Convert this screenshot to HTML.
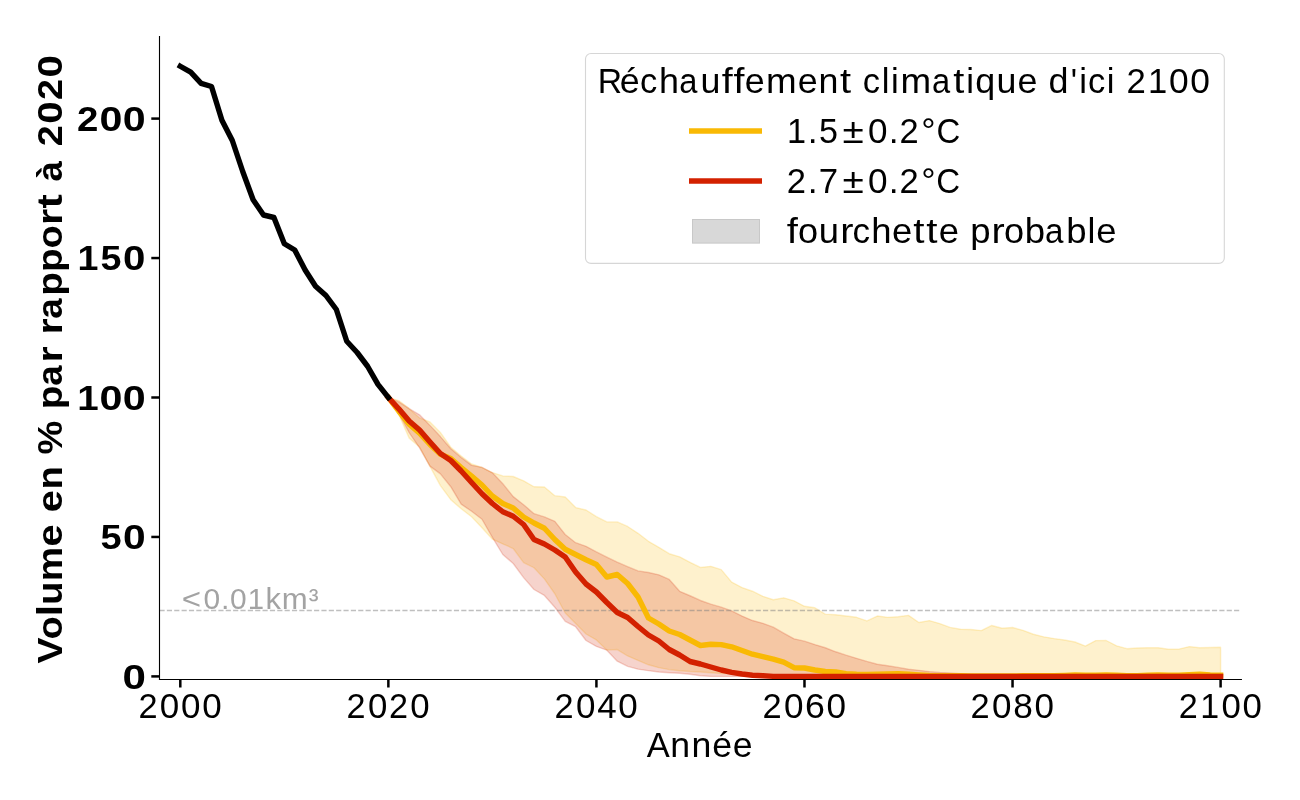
<!DOCTYPE html>
<html><head><meta charset="utf-8"><style>
html,body{margin:0;padding:0;background:#fff;}
body{width:1300px;height:800px;overflow:hidden;}
svg{display:block;will-change:transform;font-family:"Liberation Sans",sans-serif;}
</style></head><body>
<svg width="1300" height="800" viewBox="0 0 1300 800">
<rect width="1300" height="800" fill="#fff"/>
<g stroke-width="1.39" stroke-linejoin="round">
<path d="M388.36 397.50 L398.76 400.55 L409.17 408.67 L419.57 417.93 L429.97 421.99 L440.38 432.38 L450.78 447.23 L461.18 456.00 L471.58 464.03 L481.99 467.50 L492.39 472.60 L502.79 475.90 L513.20 476.49 L523.60 480.87 L534.00 486.77 L544.40 487.00 L554.81 495.66 L565.21 496.96 L575.61 507.59 L586.02 510.01 L596.42 516.70 L606.82 521.91 L617.23 521.90 L627.63 526.48 L638.03 533.31 L648.44 541.28 L658.84 547.29 L669.24 553.71 L679.64 556.84 L690.05 562.27 L700.45 567.48 L710.85 566.32 L721.26 569.67 L731.66 582.09 L742.06 587.53 L752.47 591.23 L762.87 596.29 L773.27 599.75 L783.67 597.81 L794.08 600.81 L804.48 606.26 L814.88 607.76 L825.29 614.13 L835.69 614.70 L846.09 616.01 L856.50 617.30 L866.90 620.95 L877.30 616.03 L887.70 617.35 L898.11 616.73 L908.51 615.35 L918.91 622.54 L929.32 620.60 L939.72 623.57 L950.12 627.42 L960.53 629.23 L970.93 629.53 L981.33 630.57 L991.73 625.48 L1002.14 628.27 L1012.54 627.49 L1022.94 630.37 L1033.35 634.24 L1043.75 636.82 L1054.15 638.58 L1064.56 639.96 L1074.96 642.01 L1085.36 646.11 L1095.76 640.62 L1106.17 640.50 L1116.57 645.86 L1126.97 648.69 L1137.38 648.04 L1147.78 647.74 L1158.18 647.71 L1168.59 649.30 L1178.99 649.08 L1189.39 646.62 L1199.79 647.79 L1210.20 647.50 L1220.60 647.20 L1220.60 676.40 L1210.20 676.40 L1199.79 676.40 L1189.39 676.40 L1178.99 676.40 L1168.59 676.40 L1158.18 676.40 L1147.78 676.40 L1137.38 676.40 L1126.97 676.40 L1116.57 676.40 L1106.17 676.40 L1095.76 676.40 L1085.36 676.40 L1074.96 676.40 L1064.56 676.40 L1054.15 676.40 L1043.75 676.40 L1033.35 676.40 L1022.94 676.40 L1012.54 676.40 L1002.14 676.40 L991.73 676.40 L981.33 676.40 L970.93 676.40 L960.53 676.40 L950.12 676.40 L939.72 676.40 L929.32 676.40 L918.91 676.40 L908.51 676.40 L898.11 676.40 L887.70 676.40 L877.30 676.40 L866.90 676.40 L856.50 676.40 L846.09 676.40 L835.69 676.40 L825.29 676.40 L814.88 676.40 L804.48 676.40 L794.08 676.28 L783.67 676.07 L773.27 675.78 L762.87 675.43 L752.47 675.08 L742.06 674.60 L731.66 674.08 L721.26 673.56 L710.85 672.81 L700.45 672.03 L690.05 671.50 L679.64 670.71 L669.24 669.61 L658.84 667.66 L648.44 664.77 L638.03 660.44 L627.63 655.98 L617.23 649.54 L606.82 650.08 L596.42 639.96 L586.02 634.02 L575.61 623.61 L565.21 612.96 L554.81 593.73 L544.40 578.90 L534.00 567.75 L523.60 562.55 L513.20 548.52 L502.79 543.91 L492.39 539.16 L481.99 527.67 L471.58 516.76 L461.18 508.81 L450.78 499.70 L440.38 485.58 L429.97 466.36 L419.57 446.99 L409.17 438.11 L398.76 414.45 L388.36 397.50 Z" fill="#f9b904" fill-opacity="0.2" stroke="#f9b904" stroke-opacity="0.2"/>
<path d="M388.36 397.50 L398.76 401.93 L409.17 408.70 L419.57 414.80 L429.97 425.40 L440.38 436.59 L450.78 448.74 L461.18 457.54 L471.58 465.32 L481.99 467.44 L492.39 472.84 L502.79 483.68 L513.20 496.62 L523.60 504.77 L534.00 513.66 L544.40 516.89 L554.81 521.33 L565.21 534.50 L575.61 542.70 L586.02 546.37 L596.42 551.96 L606.82 557.16 L617.23 562.17 L627.63 566.65 L638.03 570.90 L648.44 572.45 L658.84 574.87 L669.24 579.42 L679.64 591.28 L690.05 595.75 L700.45 600.48 L710.85 604.20 L721.26 607.18 L731.66 610.88 L742.06 616.03 L752.47 620.52 L762.87 623.31 L773.27 627.19 L783.67 633.14 L794.08 638.87 L804.48 641.16 L814.88 644.62 L825.29 647.73 L835.69 651.78 L846.09 655.18 L856.50 658.31 L866.90 661.44 L877.30 664.28 L887.70 665.80 L898.11 667.41 L908.51 669.27 L918.91 670.32 L929.32 671.58 L939.72 672.42 L950.12 673.00 L960.53 673.70 L970.93 674.40 L981.33 675.09 L991.73 675.82 L1002.14 676.40 L1012.54 676.40 L1022.94 676.40 L1033.35 676.40 L1043.75 676.40 L1054.15 676.40 L1064.56 676.40 L1074.96 676.40 L1085.36 676.40 L1095.76 676.40 L1106.17 676.40 L1116.57 676.40 L1126.97 676.40 L1137.38 676.40 L1147.78 676.40 L1158.18 676.40 L1168.59 676.40 L1178.99 676.40 L1189.39 676.40 L1199.79 676.40 L1210.20 676.40 L1220.60 676.40 L1220.60 676.40 L1210.20 676.40 L1199.79 676.40 L1189.39 676.40 L1178.99 676.40 L1168.59 676.40 L1158.18 676.40 L1147.78 676.40 L1137.38 676.40 L1126.97 676.40 L1116.57 676.40 L1106.17 676.40 L1095.76 676.40 L1085.36 676.40 L1074.96 676.40 L1064.56 676.40 L1054.15 676.40 L1043.75 676.40 L1033.35 676.40 L1022.94 676.40 L1012.54 676.40 L1002.14 676.40 L991.73 676.40 L981.33 676.40 L970.93 676.40 L960.53 676.40 L950.12 676.40 L939.72 676.40 L929.32 676.40 L918.91 676.40 L908.51 676.40 L898.11 676.40 L887.70 676.40 L877.30 676.40 L866.90 676.40 L856.50 676.40 L846.09 676.40 L835.69 676.40 L825.29 676.40 L814.88 676.40 L804.48 676.40 L794.08 676.40 L783.67 676.40 L773.27 676.40 L762.87 676.40 L752.47 676.40 L742.06 676.40 L731.66 676.40 L721.26 676.40 L710.85 676.39 L700.45 675.78 L690.05 674.26 L679.64 673.23 L669.24 672.70 L658.84 672.05 L648.44 670.63 L638.03 669.15 L627.63 666.32 L617.23 661.21 L606.82 650.19 L596.42 646.45 L586.02 640.51 L575.61 626.71 L565.21 621.36 L554.81 607.28 L544.40 595.45 L534.00 589.50 L523.60 577.61 L513.20 563.52 L502.79 554.50 L492.39 537.45 L481.99 519.26 L471.58 511.29 L461.18 504.13 L450.78 486.72 L440.38 473.86 L429.97 466.18 L419.57 447.93 L409.17 432.69 L398.76 413.52 L388.36 397.50 Z" fill="#d32100" fill-opacity="0.2" stroke="#d32100" stroke-opacity="0.2"/>
</g>
<line x1="159.5" y1="610.45" x2="1241.4" y2="610.45" stroke="#808080" stroke-opacity="0.5" stroke-width="1.39" stroke-dasharray="5.14 2.22"/>
<g fill="none" stroke-width="5.4" stroke-linejoin="round" stroke-linecap="square">
<path d="M388.36 397.50 L398.76 411.20 L409.17 424.20 L419.57 433.20 L429.97 444.50 L440.38 454.20 L450.78 458.50 L461.18 467.50 L471.58 476.00 L481.99 485.00 L492.39 496.00 L502.79 503.50 L513.20 508.00 L523.60 517.00 L534.00 523.00 L544.40 528.25 L554.81 539.50 L565.21 549.25 L575.61 554.50 L586.02 559.75 L596.42 564.50 L606.82 577.00 L617.23 574.50 L627.63 583.50 L638.03 597.00 L648.44 618.00 L658.84 624.00 L669.24 631.00 L679.64 634.50 L690.05 640.00 L700.45 645.50 L710.85 644.30 L721.26 644.60 L731.66 646.80 L742.06 650.50 L752.47 654.20 L762.87 656.60 L773.27 659.10 L783.67 662.20 L794.08 667.70 L804.48 668.00 L814.88 670.00 L825.29 671.50 L835.69 671.90 L846.09 673.60 L856.50 674.30 L866.90 674.40 L877.30 674.30 L887.70 674.00 L898.11 673.80 L908.51 674.30 L918.91 675.00 L929.32 675.50 L939.72 675.70 L950.12 675.80 L960.53 675.80 L970.93 675.90 L981.33 675.90 L991.73 675.90 L1002.14 675.90 L1012.54 675.90 L1022.94 675.80 L1033.35 675.80 L1043.75 675.70 L1054.15 675.60 L1064.56 675.40 L1074.96 675.00 L1085.36 675.10 L1095.76 675.30 L1106.17 675.00 L1116.57 675.30 L1126.97 675.60 L1137.38 675.60 L1147.78 675.30 L1158.18 675.00 L1168.59 675.10 L1178.99 675.20 L1189.39 674.60 L1199.79 674.30 L1210.20 674.90 L1220.60 675.10" stroke="#f9b904"/>
<path d="M388.36 397.50 L398.76 408.80 L409.17 421.00 L419.57 430.00 L429.97 442.00 L440.38 453.50 L450.78 460.50 L461.18 471.00 L471.58 482.50 L481.99 493.75 L492.39 503.50 L502.79 511.75 L513.20 516.25 L523.60 524.50 L534.00 539.50 L544.40 544.00 L554.81 550.00 L565.21 557.00 L575.61 572.00 L586.02 584.00 L596.42 592.00 L606.82 602.50 L617.23 612.50 L627.63 617.50 L638.03 626.50 L648.44 635.00 L658.84 641.00 L669.24 649.50 L679.64 655.00 L690.05 661.50 L700.45 664.00 L710.85 667.00 L721.26 670.00 L731.66 672.30 L742.06 674.00 L752.47 675.20 L762.87 675.80 L773.27 676.40 L783.67 676.40 L794.08 676.40 L804.48 676.40 L814.88 676.40 L825.29 676.40 L835.69 676.40 L846.09 676.40 L856.50 676.40 L866.90 676.40 L877.30 676.40 L887.70 676.40 L898.11 676.40 L908.51 676.40 L918.91 676.40 L929.32 676.40 L939.72 676.40 L950.12 676.40 L960.53 676.40 L970.93 676.40 L981.33 676.40 L991.73 676.40 L1002.14 676.40 L1012.54 676.40 L1022.94 676.40 L1033.35 676.40 L1043.75 676.40 L1054.15 676.40 L1064.56 676.40 L1074.96 676.40 L1085.36 676.40 L1095.76 676.40 L1106.17 676.40 L1116.57 676.40 L1126.97 676.40 L1137.38 676.40 L1147.78 676.40 L1158.18 676.40 L1168.59 676.40 L1178.99 676.40 L1189.39 676.40 L1199.79 676.40 L1210.20 676.40 L1220.60 676.40" stroke="#d32100"/>
<path d="M180.30 66.30 L190.70 72.20 L201.11 83.30 L211.51 86.50 L221.91 120.20 L232.31 140.50 L242.72 171.50 L253.12 199.70 L263.52 215.00 L273.93 217.50 L284.33 243.75 L294.73 250.00 L305.14 270.00 L315.54 286.25 L325.94 295.50 L336.35 309.50 L346.75 341.25 L357.15 352.50 L367.55 366.25 L377.96 384.40 L388.36 397.50" stroke="#000"/>
</g>
<g stroke="#000" stroke-width="1.11" stroke-linecap="square">
<line x1="159.5" y1="36.6" x2="159.5" y2="679.5"/>
<line x1="159.5" y1="679.5" x2="1241.4" y2="679.5"/>
</g>
<g stroke="#000" stroke-width="2.5">
<line x1="180.30" y1="679.5" x2="180.30" y2="687.5" /><line x1="388.36" y1="679.5" x2="388.36" y2="687.5" /><line x1="596.42" y1="679.5" x2="596.42" y2="687.5" /><line x1="804.48" y1="679.5" x2="804.48" y2="687.5" /><line x1="1012.54" y1="679.5" x2="1012.54" y2="687.5" /><line x1="1220.60" y1="679.5" x2="1220.60" y2="687.5" /><line x1="151.3" y1="676.40" x2="159.5" y2="676.40" /><line x1="151.3" y1="536.95" x2="159.5" y2="536.95" /><line x1="151.3" y1="397.50" x2="159.5" y2="397.50" /><line x1="151.3" y1="258.05" x2="159.5" y2="258.05" /><line x1="151.3" y1="118.60" x2="159.5" y2="118.60" />
</g>
<rect x="585.5" y="53.55" width="638.8" height="209.85" rx="5.5" ry="5.5" fill="#fff" fill-opacity="0.8" stroke="#d6d6d6" stroke-width="1.1"/>
<line x1="689" y1="131" x2="762" y2="131" stroke="#f9b904" stroke-width="5.5"/>
<line x1="689" y1="181" x2="762" y2="181" stroke="#d32100" stroke-width="5.5"/>
<rect x="692.5" y="219.5" width="67" height="23.6" fill="#d8d8d8" stroke="#c8c8c8" stroke-width="1"/>
<text transform="translate(137.77 717.50)" y="0" font-size="35.33" fill="#000"><tspan x="0.61" textLength="19.10" lengthAdjust="spacingAndGlyphs">2</tspan><tspan x="22.07" textLength="19.46" lengthAdjust="spacingAndGlyphs">0</tspan><tspan x="43.28" textLength="19.46" lengthAdjust="spacingAndGlyphs">0</tspan><tspan x="64.49" textLength="19.46" lengthAdjust="spacingAndGlyphs">0</tspan></text>
<text transform="translate(345.83 717.50)" y="0" font-size="35.33" fill="#000"><tspan x="0.65" textLength="19.02" lengthAdjust="spacingAndGlyphs">2</tspan><tspan x="22.12" textLength="19.37" lengthAdjust="spacingAndGlyphs">0</tspan><tspan x="43.06" textLength="19.02" lengthAdjust="spacingAndGlyphs">2</tspan><tspan x="64.53" textLength="19.37" lengthAdjust="spacingAndGlyphs">0</tspan></text>
<text transform="translate(553.89 717.50)" y="0" font-size="35.33" fill="#000"><tspan x="0.60" textLength="19.10" lengthAdjust="spacingAndGlyphs">2</tspan><tspan x="22.07" textLength="19.46" lengthAdjust="spacingAndGlyphs">0</tspan><tspan x="43.28" textLength="19.46" lengthAdjust="spacingAndGlyphs">4</tspan><tspan x="64.49" textLength="19.46" lengthAdjust="spacingAndGlyphs">0</tspan></text>
<text transform="translate(761.95 717.50)" y="0" font-size="35.33" fill="#000"><tspan x="0.56" textLength="19.18" lengthAdjust="spacingAndGlyphs">2</tspan><tspan x="22.03" textLength="19.54" lengthAdjust="spacingAndGlyphs">0</tspan><tspan x="43.07" textLength="19.88" lengthAdjust="spacingAndGlyphs">6</tspan><tspan x="64.45" textLength="19.54" lengthAdjust="spacingAndGlyphs">0</tspan></text>
<text transform="translate(970.01 717.50)" y="0" font-size="35.33" fill="#000"><tspan x="0.59" textLength="19.13" lengthAdjust="spacingAndGlyphs">2</tspan><tspan x="22.06" textLength="19.48" lengthAdjust="spacingAndGlyphs">0</tspan><tspan x="43.22" textLength="19.59" lengthAdjust="spacingAndGlyphs">8</tspan><tspan x="64.48" textLength="19.48" lengthAdjust="spacingAndGlyphs">0</tspan></text>
<text transform="translate(1178.07 717.50)" y="0" font-size="35.33" fill="#000"><tspan x="0.66" textLength="19.00" lengthAdjust="spacingAndGlyphs">2</tspan><tspan x="22.18" textLength="18.91" lengthAdjust="spacingAndGlyphs">1</tspan><tspan x="43.34" textLength="19.35" lengthAdjust="spacingAndGlyphs">0</tspan><tspan x="64.54" textLength="19.35" lengthAdjust="spacingAndGlyphs">0</tspan></text>
<text transform="translate(122.60 688.50)" y="0" font-size="35.33" font-weight="bold" fill="#000"><tspan x="-0.07" textLength="23.39" lengthAdjust="spacingAndGlyphs">0</tspan></text>
<text transform="translate(99.41 549.05)" y="0" font-size="35.33" font-weight="bold" fill="#000"><tspan x="1.09" textLength="21.16" lengthAdjust="spacingAndGlyphs">5</tspan><tspan x="23.51" textLength="22.63" lengthAdjust="spacingAndGlyphs">0</tspan></text>
<text transform="translate(76.22 409.60)" y="0" font-size="35.33" font-weight="bold" fill="#000"><tspan x="0.93" textLength="21.44" lengthAdjust="spacingAndGlyphs">1</tspan><tspan x="23.37" textLength="22.91" lengthAdjust="spacingAndGlyphs">0</tspan><tspan x="46.56" textLength="22.91" lengthAdjust="spacingAndGlyphs">0</tspan></text>
<text transform="translate(76.22 270.15)" y="0" font-size="35.33" font-weight="bold" fill="#000"><tspan x="1.19" textLength="20.95" lengthAdjust="spacingAndGlyphs">1</tspan><tspan x="24.39" textLength="20.93" lengthAdjust="spacingAndGlyphs">5</tspan><tspan x="46.82" textLength="22.39" lengthAdjust="spacingAndGlyphs">0</tspan></text>
<text transform="translate(76.22 130.70)" y="0" font-size="35.33" font-weight="bold" fill="#000"><tspan x="0.88" textLength="21.37" lengthAdjust="spacingAndGlyphs">2</tspan><tspan x="23.38" textLength="22.88" lengthAdjust="spacingAndGlyphs">0</tspan><tspan x="46.57" textLength="22.88" lengthAdjust="spacingAndGlyphs">0</tspan></text>
<text transform="translate(646.80 756.80)" y="0" font-size="35.33" fill="#000"><tspan x="-0.09" textLength="22.97" lengthAdjust="spacingAndGlyphs">A</tspan><tspan x="23.53" textLength="19.82" lengthAdjust="spacingAndGlyphs">n</tspan><tspan x="44.66" textLength="19.82" lengthAdjust="spacingAndGlyphs">n</tspan><tspan x="65.46" textLength="19.83" lengthAdjust="spacingAndGlyphs">é</tspan><tspan x="85.97" textLength="19.83" lengthAdjust="spacingAndGlyphs">e</tspan></text>
<text transform="translate(62.20 663.30) rotate(-90)" y="0" font-size="35.33" font-weight="bold" fill="#000"><tspan x="-0.08" textLength="25.96" lengthAdjust="spacingAndGlyphs">V</tspan><tspan x="23.74" textLength="23.35" lengthAdjust="spacingAndGlyphs">o</tspan><tspan x="46.95" textLength="11.29" lengthAdjust="spacingAndGlyphs">l</tspan><tspan x="58.40" textLength="23.46" lengthAdjust="spacingAndGlyphs">u</tspan><tspan x="82.18" textLength="34.40" lengthAdjust="spacingAndGlyphs">m</tspan><tspan x="116.84" textLength="22.06" lengthAdjust="spacingAndGlyphs">e</tspan><tspan x="139.36"> </tspan><tspan x="151.05" textLength="22.06" lengthAdjust="spacingAndGlyphs">e</tspan><tspan x="173.73" textLength="23.46" lengthAdjust="spacingAndGlyphs">n</tspan><tspan x="197.30"> </tspan><tspan x="208.71" textLength="33.86" lengthAdjust="spacingAndGlyphs">%</tspan><tspan x="242.30"> </tspan><tspan x="254.15" textLength="23.72" lengthAdjust="spacingAndGlyphs">p</tspan><tspan x="277.58" textLength="20.39" lengthAdjust="spacingAndGlyphs">a</tspan><tspan x="300.74" textLength="16.08" lengthAdjust="spacingAndGlyphs">r</tspan><tspan x="316.70"> </tspan><tspan x="328.79" textLength="16.08" lengthAdjust="spacingAndGlyphs">r</tspan><tspan x="344.55" textLength="20.39" lengthAdjust="spacingAndGlyphs">a</tspan><tspan x="367.47" textLength="23.72" lengthAdjust="spacingAndGlyphs">p</tspan><tspan x="391.33" textLength="23.72" lengthAdjust="spacingAndGlyphs">p</tspan><tspan x="414.73" textLength="23.35" lengthAdjust="spacingAndGlyphs">o</tspan><tspan x="438.34" textLength="16.08" lengthAdjust="spacingAndGlyphs">r</tspan><tspan x="454.93" textLength="14.34" lengthAdjust="spacingAndGlyphs">t</tspan><tspan x="470.23"> </tspan><tspan x="481.79" textLength="20.39" lengthAdjust="spacingAndGlyphs">à</tspan><tspan x="504.33"> </tspan><tspan x="517.01" textLength="21.00" lengthAdjust="spacingAndGlyphs">2</tspan><tspan x="539.51" textLength="22.48" lengthAdjust="spacingAndGlyphs">0</tspan><tspan x="563.39" textLength="21.00" lengthAdjust="spacingAndGlyphs">2</tspan><tspan x="585.90" textLength="22.48" lengthAdjust="spacingAndGlyphs">0</tspan></text>
<text transform="translate(597.80 93.10)" y="0" font-size="35.33" fill="#000"><tspan x="-0.03" textLength="24.34" lengthAdjust="spacingAndGlyphs">R</tspan><tspan x="22.02" textLength="19.92" lengthAdjust="spacingAndGlyphs">é</tspan><tspan x="42.31" textLength="17.26" lengthAdjust="spacingAndGlyphs">c</tspan><tspan x="61.09" textLength="19.97" lengthAdjust="spacingAndGlyphs">h</tspan><tspan x="81.54" textLength="18.17" lengthAdjust="spacingAndGlyphs">a</tspan><tspan x="102.59" textLength="19.90" lengthAdjust="spacingAndGlyphs">u</tspan><tspan x="123.95" textLength="10.97" lengthAdjust="spacingAndGlyphs">f</tspan><tspan x="135.68" textLength="10.97" lengthAdjust="spacingAndGlyphs">f</tspan><tspan x="147.01" textLength="19.92" lengthAdjust="spacingAndGlyphs">e</tspan><tspan x="168.16" textLength="30.64" lengthAdjust="spacingAndGlyphs">m</tspan><tspan x="199.98" textLength="19.92" lengthAdjust="spacingAndGlyphs">e</tspan><tspan x="220.81" textLength="19.90" lengthAdjust="spacingAndGlyphs">n</tspan><tspan x="242.15" textLength="11.07" lengthAdjust="spacingAndGlyphs">t</tspan><tspan x="254.32"> </tspan><tspan x="265.06" textLength="17.26" lengthAdjust="spacingAndGlyphs">c</tspan><tspan x="284.01" textLength="7.74" lengthAdjust="spacingAndGlyphs">l</tspan><tspan x="293.28" textLength="7.74" lengthAdjust="spacingAndGlyphs">i</tspan><tspan x="302.77" textLength="30.64" lengthAdjust="spacingAndGlyphs">m</tspan><tspan x="334.16" textLength="18.17" lengthAdjust="spacingAndGlyphs">a</tspan><tspan x="355.56" textLength="11.07" lengthAdjust="spacingAndGlyphs">t</tspan><tspan x="368.51" textLength="7.74" lengthAdjust="spacingAndGlyphs">i</tspan><tspan x="377.39" textLength="19.97" lengthAdjust="spacingAndGlyphs">q</tspan><tspan x="398.70" textLength="19.90" lengthAdjust="spacingAndGlyphs">u</tspan><tspan x="419.64" textLength="19.92" lengthAdjust="spacingAndGlyphs">e</tspan><tspan x="439.79"> </tspan><tspan x="450.78" textLength="19.98" lengthAdjust="spacingAndGlyphs">d</tspan><tspan x="472.96" textLength="6.32" lengthAdjust="spacingAndGlyphs">'</tspan><tspan x="481.48" textLength="7.74" lengthAdjust="spacingAndGlyphs">i</tspan><tspan x="490.11" textLength="17.26" lengthAdjust="spacingAndGlyphs">c</tspan><tspan x="509.07" textLength="7.74" lengthAdjust="spacingAndGlyphs">i</tspan><tspan x="517.55"> </tspan><tspan x="528.65" textLength="19.32" lengthAdjust="spacingAndGlyphs">2</tspan><tspan x="550.17" textLength="19.23" lengthAdjust="spacingAndGlyphs">1</tspan><tspan x="571.32" textLength="19.68" lengthAdjust="spacingAndGlyphs">0</tspan><tspan x="592.53" textLength="19.68" lengthAdjust="spacingAndGlyphs">0</tspan></text>
<text transform="translate(786.20 143.10)" y="0" font-size="35.33" fill="#000"><tspan x="0.90" textLength="19.07" lengthAdjust="spacingAndGlyphs">1</tspan><tspan x="21.55" textLength="9.87" lengthAdjust="spacingAndGlyphs">.</tspan><tspan x="32.79" textLength="18.95" lengthAdjust="spacingAndGlyphs">5</tspan><tspan x="56.32" textLength="21.28" lengthAdjust="spacingAndGlyphs">±</tspan><tspan x="81.78" textLength="19.51" lengthAdjust="spacingAndGlyphs">0</tspan><tspan x="102.49" textLength="9.87" lengthAdjust="spacingAndGlyphs">.</tspan><tspan x="113.32" textLength="19.15" lengthAdjust="spacingAndGlyphs">2</tspan><tspan x="135.11" textLength="14.36" lengthAdjust="spacingAndGlyphs">°</tspan><tspan x="150.19" textLength="23.77" lengthAdjust="spacingAndGlyphs">C</tspan></text>
<text transform="translate(786.20 193.10)" y="0" font-size="35.33" fill="#000"><tspan x="0.55" textLength="19.21" lengthAdjust="spacingAndGlyphs">2</tspan><tspan x="21.54" textLength="9.90" lengthAdjust="spacingAndGlyphs">.</tspan><tspan x="32.66" textLength="19.35" lengthAdjust="spacingAndGlyphs">7</tspan><tspan x="56.29" textLength="21.35" lengthAdjust="spacingAndGlyphs">±</tspan><tspan x="81.75" textLength="19.56" lengthAdjust="spacingAndGlyphs">0</tspan><tspan x="102.48" textLength="9.90" lengthAdjust="spacingAndGlyphs">.</tspan><tspan x="113.30" textLength="19.21" lengthAdjust="spacingAndGlyphs">2</tspan><tspan x="135.09" textLength="14.40" lengthAdjust="spacingAndGlyphs">°</tspan><tspan x="150.16" textLength="23.84" lengthAdjust="spacingAndGlyphs">C</tspan></text>
<text transform="translate(786.20 242.70)" y="0" font-size="35.33" fill="#000"><tspan x="0.68" textLength="11.15" lengthAdjust="spacingAndGlyphs">f</tspan><tspan x="11.90" textLength="20.08" lengthAdjust="spacingAndGlyphs">o</tspan><tspan x="32.51" textLength="20.22" lengthAdjust="spacingAndGlyphs">u</tspan><tspan x="54.04" textLength="13.20" lengthAdjust="spacingAndGlyphs">r</tspan><tspan x="66.21" textLength="17.54" lengthAdjust="spacingAndGlyphs">c</tspan><tspan x="84.97" textLength="20.29" lengthAdjust="spacingAndGlyphs">h</tspan><tspan x="105.87" textLength="20.24" lengthAdjust="spacingAndGlyphs">e</tspan><tspan x="126.97" textLength="11.25" lengthAdjust="spacingAndGlyphs">t</tspan><tspan x="140.04" textLength="11.25" lengthAdjust="spacingAndGlyphs">t</tspan><tspan x="152.51" textLength="20.24" lengthAdjust="spacingAndGlyphs">e</tspan><tspan x="172.82"> </tspan><tspan x="184.03" textLength="20.31" lengthAdjust="spacingAndGlyphs">p</tspan><tspan x="205.35" textLength="13.20" lengthAdjust="spacingAndGlyphs">r</tspan><tspan x="217.69" textLength="20.08" lengthAdjust="spacingAndGlyphs">o</tspan><tspan x="238.53" textLength="20.31" lengthAdjust="spacingAndGlyphs">b</tspan><tspan x="258.84" textLength="18.46" lengthAdjust="spacingAndGlyphs">a</tspan><tspan x="280.12" textLength="20.31" lengthAdjust="spacingAndGlyphs">b</tspan><tspan x="301.36" textLength="7.86" lengthAdjust="spacingAndGlyphs">l</tspan><tspan x="310.13" textLength="20.24" lengthAdjust="spacingAndGlyphs">e</tspan></text>
<text transform="translate(179.83 608.90)" y="0" font-size="29.44" fill="#a3a3a3"><tspan x="1.96" textLength="19.35" lengthAdjust="spacingAndGlyphs">&lt;</tspan><tspan x="23.77" textLength="16.66" lengthAdjust="spacingAndGlyphs">0</tspan><tspan x="41.13" textLength="8.43" lengthAdjust="spacingAndGlyphs">.</tspan><tspan x="50.28" textLength="16.66" lengthAdjust="spacingAndGlyphs">0</tspan><tspan x="67.99" textLength="16.29" lengthAdjust="spacingAndGlyphs">1</tspan><tspan x="85.61" textLength="15.43" lengthAdjust="spacingAndGlyphs">k</tspan><tspan x="101.84" textLength="25.95" lengthAdjust="spacingAndGlyphs">m</tspan><tspan x="129.01" textLength="9.75" lengthAdjust="spacingAndGlyphs">³</tspan></text>
</svg>
</body></html>
